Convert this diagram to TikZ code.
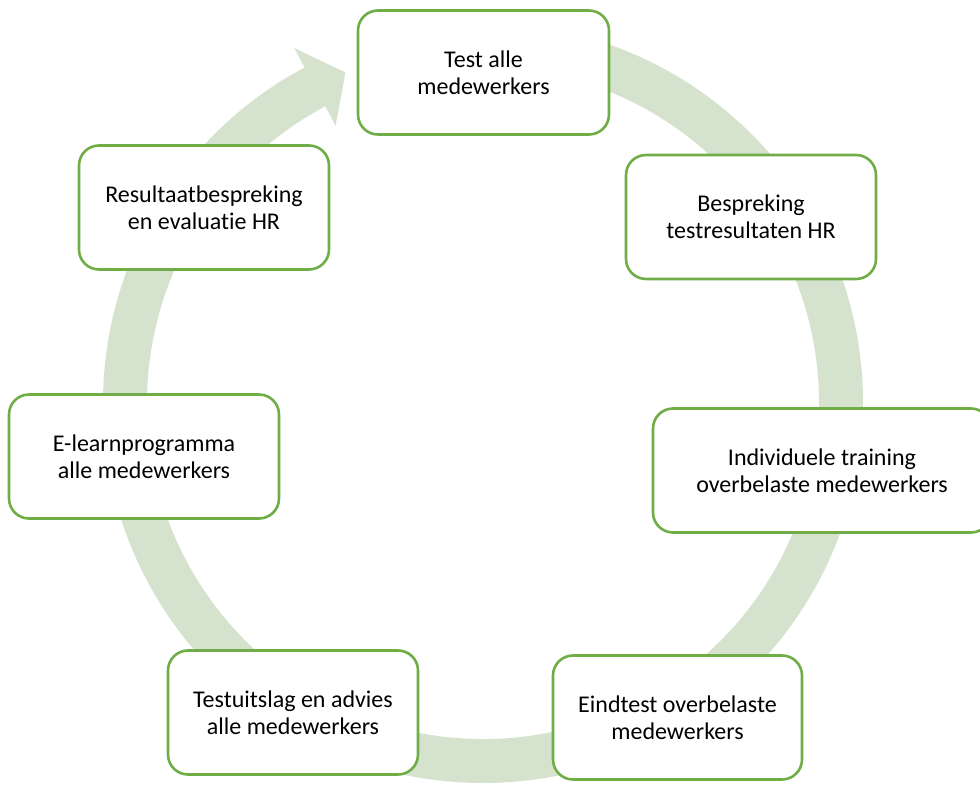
\documentclass[tikz,border=0pt]{standalone}
\usepackage{fontspec}
\setmainfont[Ligatures=NoCommon]{Carlito}
\definecolor{ringgreen}{HTML}{D5E3CE}
\definecolor{edgegreen}{HTML}{70AD47}
\begin{document}
\begin{tikzpicture}[x=1pt,y=1pt,
  stagebox/.style={draw=edgegreen, line width=2.6pt, fill=white,
    rounded corners=20pt, minimum height=124pt, inner sep=0pt,
    align=center, font=\fontsize{24}{27}\selectfont},
  ringfill/.style={fill=ringgreen, draw=none}]
\useasboundingbox (0,0) rectangle (980,785);
\clip (0,0) rectangle (980,785);

% circular arrow running clockwise behind the stages
\begin{scope}[shift={(483,382)}]
  \path[ringfill] (90:380)
    arc[start angle=90, end angle=-242, radius=380]
    -- (-242:402) -- (-247.4:358) -- (-242:314) -- (-242:336)
    arc[start angle=-242, end angle=90, radius=336] -- cycle;
\end{scope}

% stages
\node[stagebox, minimum width=251pt] (s1) at (483.5,712.5) {Test alle\\medewerkers};
\node[stagebox, minimum width=250pt] (s2) at (751,568) {Bespreking\\testresultaten HR};
\node[stagebox, minimum width=338pt] (s3) at (822,314.5) {Individuele training\\overbelaste medewerkers};
\node[stagebox, minimum width=249pt] (s4) at (677.5,67.5) {Eindtest overbelaste\\medewerkers};
\node[stagebox, minimum width=250pt] (s5) at (293,72.5) {Testuitslag en advies\\alle medewerkers};
\node[stagebox, minimum width=270pt] (s6) at (144,328.5) {E-learnprogramma\\alle medewerkers};
\node[stagebox, minimum width=250pt] (s7) at (204,577.5) {Resultaatbespreking\\en evaluatie HR};
\end{tikzpicture}
\end{document}
